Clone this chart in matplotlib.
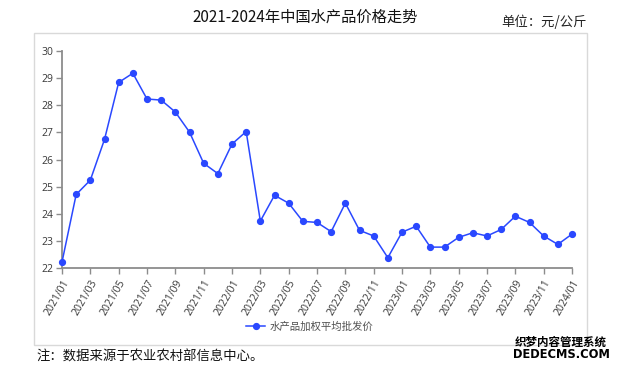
import matplotlib
matplotlib.use("Agg")
import matplotlib.pyplot as plt
from matplotlib.patches import Rectangle

plt.rcParams['font.family'] = ['Open Sans', 'Noto Sans CJK SC', 'DejaVu Sans']

months = [f"{y}/{m:02d}" for y in (2021, 2022, 2023) for m in range(1, 13)] + ["2024/01"]
prices = [22.22, 24.71, 25.24, 26.74, 28.84, 29.18, 28.23, 28.19, 27.75, 27.01, 25.86, 25.48,
          26.57, 27.03, 23.73, 24.68, 24.39, 23.72, 23.68, 23.34, 24.39, 23.39, 23.18, 22.38,
          23.32, 23.54, 22.77, 22.77, 23.13, 23.30, 23.18, 23.42, 23.91, 23.68, 23.18, 22.87,
          23.25]
yticks = [22, 23, 24, 25, 26, 27, 28, 29, 30]
series_name = "水产品加权平均批发价"
title = "2021-2024年中国水产品价格走势"
unit = "单位：元/公斤"
note = "注：数据来源于农业农村部信息中心。"

W, H = 622, 369
fig = plt.figure(figsize=(W / 100, H / 100), dpi=100)

# outer panel border
fig.patches.append(Rectangle((34 / W, 1 - 345 / H), (587 - 34) / W, (345 - 33) / H,
                             transform=fig.transFigure, fill=False,
                             edgecolor='#d9d9d9', linewidth=1.0))

ax = fig.add_axes([62 / W, 1 - 268 / H, (572 - 62) / W, (268 - 51) / H])
x = list(range(len(months)))
color = '#2a48ff'
line, = ax.plot(x, prices, color=color, linewidth=1.1, marker='o', markersize=4.2,
                clip_on=False, label=series_name, zorder=3)

ax.set_xlim(0, len(months) - 1)
ax.set_ylim(22, 30)
ax.set_yticks(yticks)
ax.set_yticklabels([str(v) for v in yticks])
ax.set_xticks(x[::2])
ax.set_xticklabels(months[::2], rotation=60, ha='right', va='top',
                   rotation_mode='anchor')
for s in ('top', 'right'):
    ax.spines[s].set_visible(False)
for s in ('left', 'bottom'):
    ax.spines[s].set_color('#8c8c8c')
    ax.spines[s].set_linewidth(1.3)
ax.tick_params(axis='both', colors='#8c8c8c', labelcolor='#383838', labelsize=7.5,
               length=4, width=1.0, pad=2)
ax.tick_params(axis='x', pad=3)

leg = fig.legend(handles=[line], loc='center', bbox_to_anchor=(310 / W, 1 - 327 / H),
                 frameon=False, handlelength=1.8, handletextpad=0.5,
                 prop={'family': ['Noto Sans CJK SC', 'DejaVu Sans'], 'size': 7.5})
for t in leg.get_texts():
    t.set_color('#505050')

fig.text(305 / W, 1 - 17 / H, title, ha='center', va='center', fontsize=11,
         family=['Noto Sans CJK SC', 'DejaVu Sans'], color='#111111')
fig.text(587 / W, 1 - 22 / H, unit, ha='right', va='center', fontsize=9.6,
         family=['Noto Sans CJK SC', 'DejaVu Sans'], color='#222222')
fig.text(36 / W, 1 - 357 / H, note, ha='left', va='center', fontsize=9.6,
         family=['Noto Sans CJK SC', 'DejaVu Sans'], color='#111111')

# watermark
fig.text(561 / W, 1 - 342 / H, "织梦内容管理系统", ha='center', va='center', fontsize=8.3,
         family=['Noto Sans CJK SC', 'DejaVu Sans'], color='black', fontweight='bold')
fig.text(561 / W, 1 - 354 / H, "DEDECMS.COM", ha='center', va='center', fontsize=8.3,
         family=['DejaVu Sans'], color='black', fontweight='bold')

fig.savefig("out.png", dpi=100)
